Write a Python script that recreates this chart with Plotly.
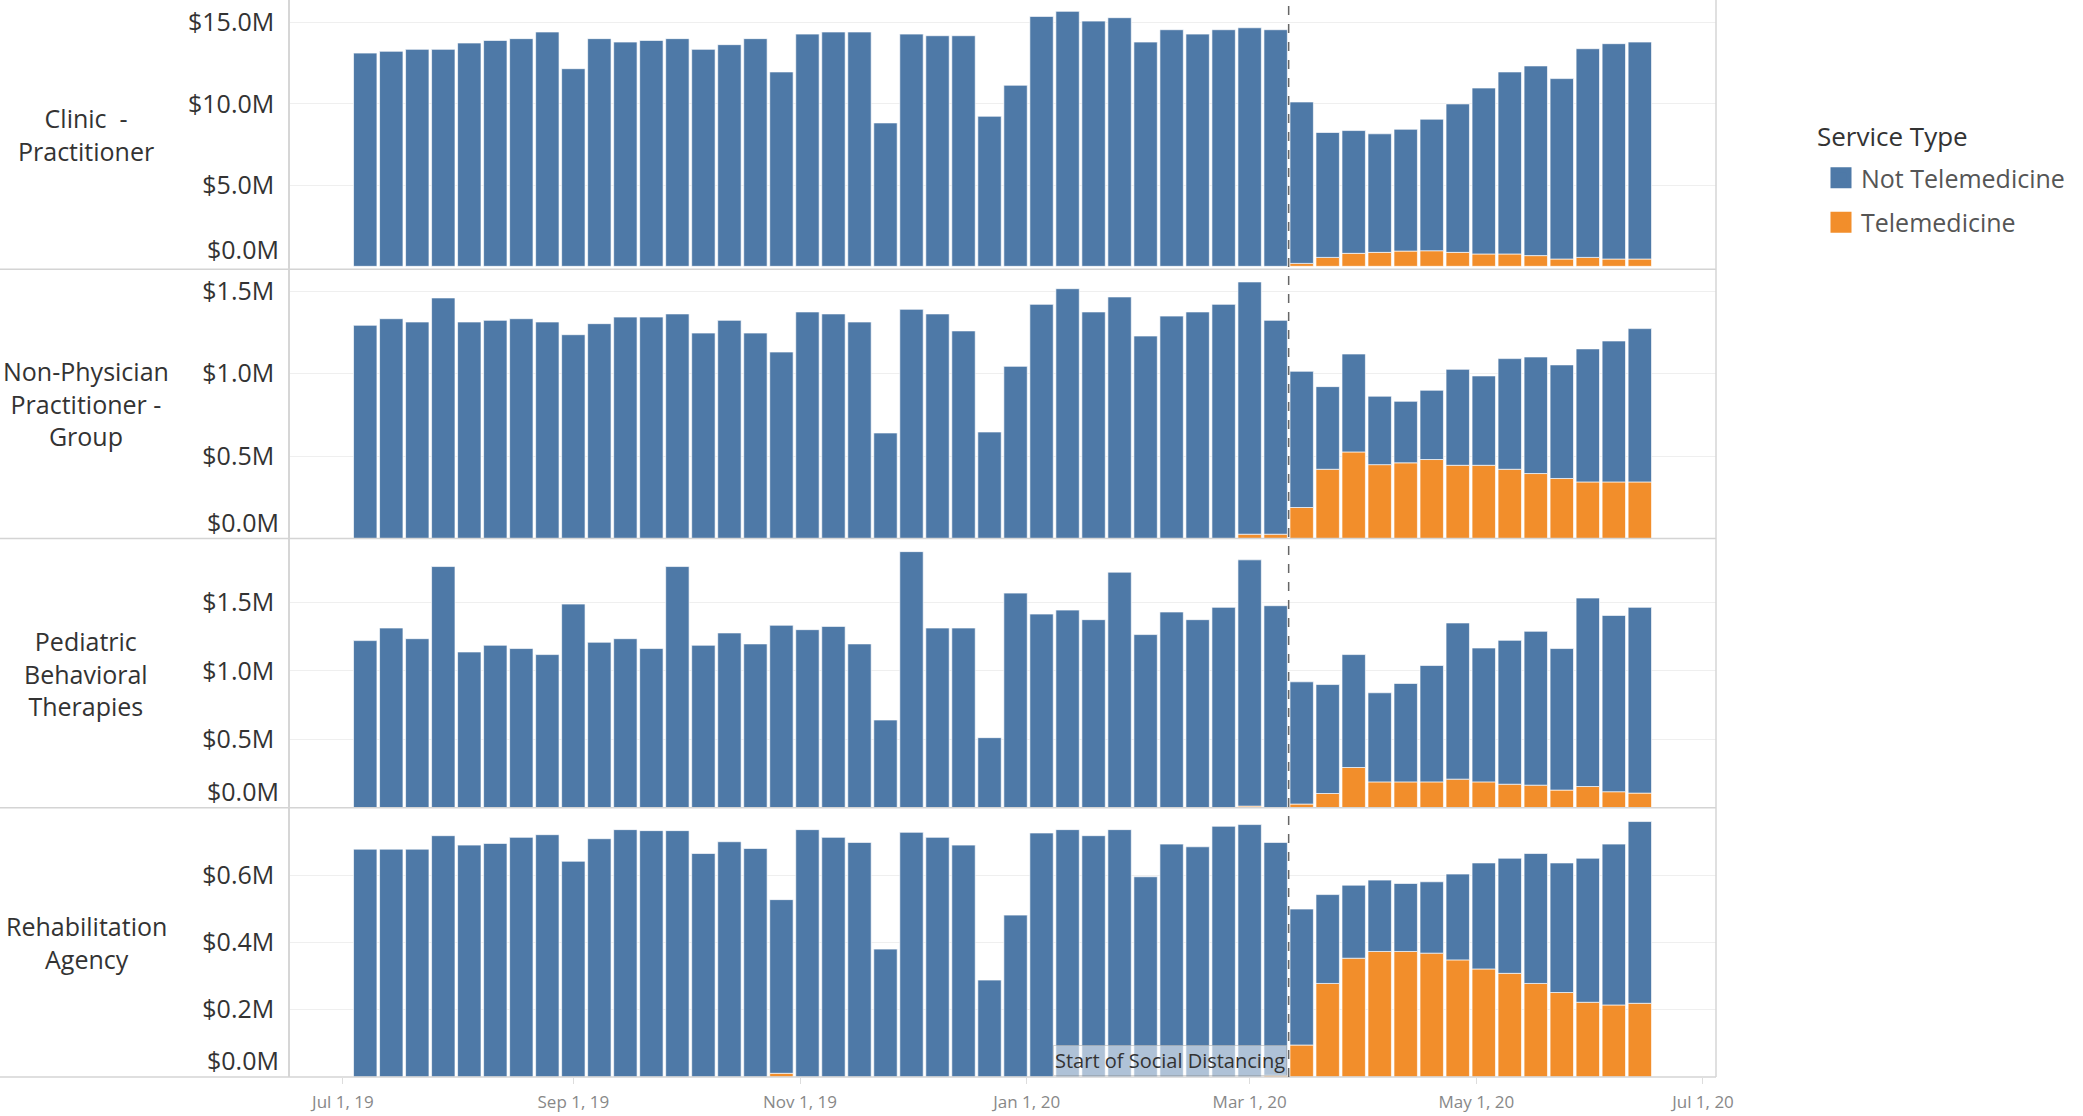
import plotly.graph_objects as go
from plotly.subplots import make_subplots

# Week start dates (one bar per week)
weeks = [
    "2019-07-07", "2019-07-14", "2019-07-21", "2019-07-28", "2019-08-04", "2019-08-11",
    "2019-08-18", "2019-08-25", "2019-09-01", "2019-09-08", "2019-09-15", "2019-09-22",
    "2019-09-29", "2019-10-06", "2019-10-13", "2019-10-20", "2019-10-27", "2019-11-03",
    "2019-11-10", "2019-11-17", "2019-11-24", "2019-12-01", "2019-12-08", "2019-12-15",
    "2019-12-22", "2019-12-29", "2020-01-05", "2020-01-12", "2020-01-19", "2020-01-26",
    "2020-02-02", "2020-02-09", "2020-02-16", "2020-02-23", "2020-03-01", "2020-03-08",
    "2020-03-15", "2020-03-22", "2020-03-29", "2020-04-05", "2020-04-12", "2020-04-19",
    "2020-04-26", "2020-05-03", "2020-05-10", "2020-05-17", "2020-05-24", "2020-05-31",
    "2020-06-07", "2020-06-14",
]

row_labels = [
    "Clinic  -<br>Practitioner",
    "Non-Physician<br>Practitioner -<br>Group",
    "Pediatric<br>Behavioral<br>Therapies",
    "Rehabilitation<br>Agency",
]

# values in $M
clinic_not_tele = [
    13.13, 13.24, 13.36, 13.36, 13.75, 13.91, 14.02, 14.43, 12.17, 14.02, 13.81, 13.91,
    14.02, 13.36, 13.65, 14.02, 11.97, 14.30, 14.43, 14.43, 8.83, 14.30, 14.20, 14.20,
    9.24, 11.15, 15.39, 15.70, 15.10, 15.31, 13.81, 14.57, 14.30, 14.57, 14.69, 14.57,
    9.94, 7.69, 7.56, 7.30, 7.50, 8.10, 9.14, 10.22, 11.21, 11.68, 11.11, 12.85,
    13.26, 13.36,
]
clinic_tele = [0] * 36 + [
    0.18, 0.55, 0.80, 0.86, 0.94, 0.96, 0.86, 0.76, 0.76, 0.66, 0.45, 0.55, 0.45, 0.45,
]

nonphys_not_tele = [
    1.293, 1.333, 1.313, 1.459, 1.313, 1.323, 1.333, 1.313, 1.236, 1.303, 1.343, 1.343,
    1.362, 1.246, 1.323, 1.246, 1.131, 1.374, 1.362, 1.313, 0.640, 1.390, 1.362, 1.259,
    0.646, 1.044, 1.420, 1.515, 1.374, 1.465, 1.228, 1.349, 1.374, 1.420, 1.530, 1.297,
    0.826, 0.501, 0.594, 0.415, 0.373, 0.420, 0.582, 0.542, 0.671, 0.707, 0.689, 0.807,
    0.855, 0.930,
]
nonphys_tele = [0] * 25 + [-0.010] + [0] * 8 + [0.026, 0.026] + [
    0.188, 0.420, 0.525, 0.448, 0.459, 0.479, 0.444, 0.444, 0.420, 0.394, 0.364, 0.343,
    0.343, 0.343,
]

pediatric_not_tele = [
    1.221, 1.313, 1.235, 1.762, 1.138, 1.187, 1.163, 1.119, 1.488, 1.209, 1.235, 1.163,
    1.762, 1.187, 1.277, 1.197, 1.333, 1.301, 1.325, 1.197, 0.641, 1.871, 1.313, 1.313,
    0.512, 1.568, 1.415, 1.444, 1.374, 1.721, 1.265, 1.430, 1.374, 1.464, 1.799, 1.476,
    0.893, 0.796, 0.825, 0.651, 0.719, 0.850, 1.141, 0.978, 1.051, 1.124, 1.034, 1.377,
    1.288, 1.357,
]
pediatric_tele = [0] * 34 + [0.012, 0] + [
    0.027, 0.104, 0.294, 0.189, 0.189, 0.189, 0.209, 0.189, 0.172, 0.165, 0.129, 0.155,
    0.117, 0.107,
]

rehab_not_tele = [
    0.677, 0.677, 0.677, 0.717, 0.689, 0.694, 0.712, 0.720, 0.641, 0.708, 0.735, 0.732,
    0.732, 0.664, 0.699, 0.679, 0.516, 0.735, 0.712, 0.697, 0.380, 0.727, 0.712, 0.689,
    0.288, 0.481, 0.725, 0.735, 0.717, 0.735, 0.595, 0.692, 0.684, 0.745, 0.750, 0.692,
    0.404, 0.264, 0.217, 0.212, 0.202, 0.212, 0.255, 0.315, 0.342, 0.386, 0.385, 0.428,
    0.478, 0.540,
]
rehab_tele = [0] * 16 + [0.011] + [0] * 18 + [0.005] + [
    0.095, 0.278, 0.353, 0.373, 0.373, 0.368, 0.348, 0.321, 0.308, 0.278, 0.251, 0.222,
    0.214, 0.219,
]

not_tele_series = [clinic_not_tele, nonphys_not_tele, pediatric_not_tele, rehab_not_tele]
tele_series = [clinic_tele, nonphys_tele, pediatric_tele, rehab_tele]

y_tick_values = [[5, 10, 15], [0.5, 1.0, 1.5], [0.5, 1.0, 1.5], [0.2, 0.4, 0.6]]
y_ranges = [[-0.18, 16.40], [0.0, 1.633], [0.0, 1.967], [0.0, 0.800]]

social_distancing_date = "2020-03-11 12:00"

BLUE = "#4e79a7"
ORANGE = "#f28e2b"
FONT = "Open Sans"

W, H = 2083, 1116
ML, MR, MT, MB = 290, 367, 0, 39
PW = W - ML - MR
PH = H - MT - MB

fig = make_subplots(rows=4, cols=1, shared_xaxes=True, vertical_spacing=0)

for i in range(4):
    r = i + 1
    fig.add_trace(
        go.Bar(x=weeks, y=tele_series[i], name="Telemedicine", marker_color=ORANGE,
               marker_line=dict(color="rgba(255,255,255,0.65)", width=1),
               showlegend=False),
        row=r, col=1)
    fig.add_trace(
        go.Bar(x=weeks, y=not_tele_series[i], name="Not Telemedicine", marker_color=BLUE,
               marker_line=dict(color="rgba(255,255,255,0.65)", width=1),
               showlegend=False),
        row=r, col=1)

# legend entries
for name, col in [("Not Telemedicine", BLUE), ("Telemedicine", ORANGE)]:
    fig.add_trace(
        go.Scatter(x=[None], y=[None], mode="markers", name=name, legendgroup=name,
                   marker=dict(symbol="square", size=16, color=col,
                               line=dict(color=col, width=5)),
                   showlegend=True),
        row=1, col=1)

fig.update_layout(
    width=W, height=H,
    margin=dict(l=ML, r=MR, t=MT, b=MB),
    barmode="relative", bargap=0.1,
    paper_bgcolor="white", plot_bgcolor="white",
    font=dict(family=FONT, color="#333333"),
    legend=dict(
        x=(1821 - ML) / PW, y=1 - 155 / PH, xanchor="left", yanchor="top",
        font=dict(size=25, color="#555555", family=FONT),
        traceorder="grouped", tracegroupgap=9, bgcolor="rgba(0,0,0,0)",
        itemclick=False,
    ),
)

# legend title
fig.add_annotation(
    text="Service Type", xref="paper", yref="paper",
    x=(1815 - ML) / PW, y=1 - 136 / PH, xanchor="left", yanchor="middle",
    showarrow=False, font=dict(size=26, color="#333333", family=FONT),
)

for i in range(4):
    r = i + 1
    fig.update_yaxes(
        row=r, col=1, range=y_ranges[i], tickvals=y_tick_values[i],
        ticktext=[f"${v:.1f}M" for v in y_tick_values[i]],
        showgrid=True, gridcolor="#efefef", gridwidth=1,
        zeroline=False, showline=True, linecolor="#d6d6d6", linewidth=1.5,
        ticks="", ticklabelstandoff=9,
        tickfont=dict(size=25, color="#333333", family=FONT),
    )
    # zero label placed just above the baseline (as in the source)
    fig.add_annotation(
        text="$0.0M", xref="paper", x=0, xanchor="right", xshift=-9,
        yref=f"y{r if r > 1 else ''}", y=0, yanchor="bottom", yshift=-2,
        showarrow=False, font=dict(size=25, color="#333333", family=FONT),
    )
    fig.add_annotation(
        text=row_labels[i], xref="paper", x=(86 - ML) / PW, xanchor="center",
        yref=f"y{r if r > 1 else ''} domain", y=0.5, yanchor="middle",
        showarrow=False, align="center",
        font=dict(size=25, color="#333333", family=FONT),
    )
    # pane separator
    yb = 1 - r / 4
    fig.add_shape(type="line", xref="paper", yref="paper",
                  x0=-ML / PW, x1=1, y0=yb, y1=yb,
                  line=dict(color="#d4d4d4", width=1.5))

fig.update_xaxes(
    range=["2019-06-16 18:00", "2020-07-04 12:00"],
    showgrid=False, zeroline=False, showline=False,
    tick0="2019-07-01", dtick="M2", tickformat="%b %-d, %y",
)
fig.update_xaxes(
    row=4, col=1, ticks="outside", ticklen=6, tickcolor="#dddddd",
    ticklabelstandoff=4,
    tickfont=dict(size=17, color="#888888", family=FONT),
)

# right pane border
fig.add_shape(type="line", xref="paper", yref="paper", x0=1, x1=1, y0=0, y1=1,
              line=dict(color="#d6d6d6", width=1.5))

# reference line
fig.add_shape(type="line", xref="x", yref="paper",
              x0=social_distancing_date, x1=social_distancing_date, y0=0, y1=1,
              line=dict(color="#666666", width=1.5, dash="dash"))
fig.add_annotation(
    text="Start of Social Distancing", xref="x4", yref="y4",
    x=social_distancing_date, y=0, xanchor="right", yanchor="bottom",
    xshift=-2, yshift=1, showarrow=False,
    bgcolor="rgba(255,255,255,0.55)", bordercolor="rgba(180,180,180,0.6)", borderwidth=1,
    borderpad=1, font=dict(size=20, color="#333333", family=FONT),
)

fig.write_html("out.html", config={"displayModeBar": False},
               post_script="document.body.style.margin='0';")
